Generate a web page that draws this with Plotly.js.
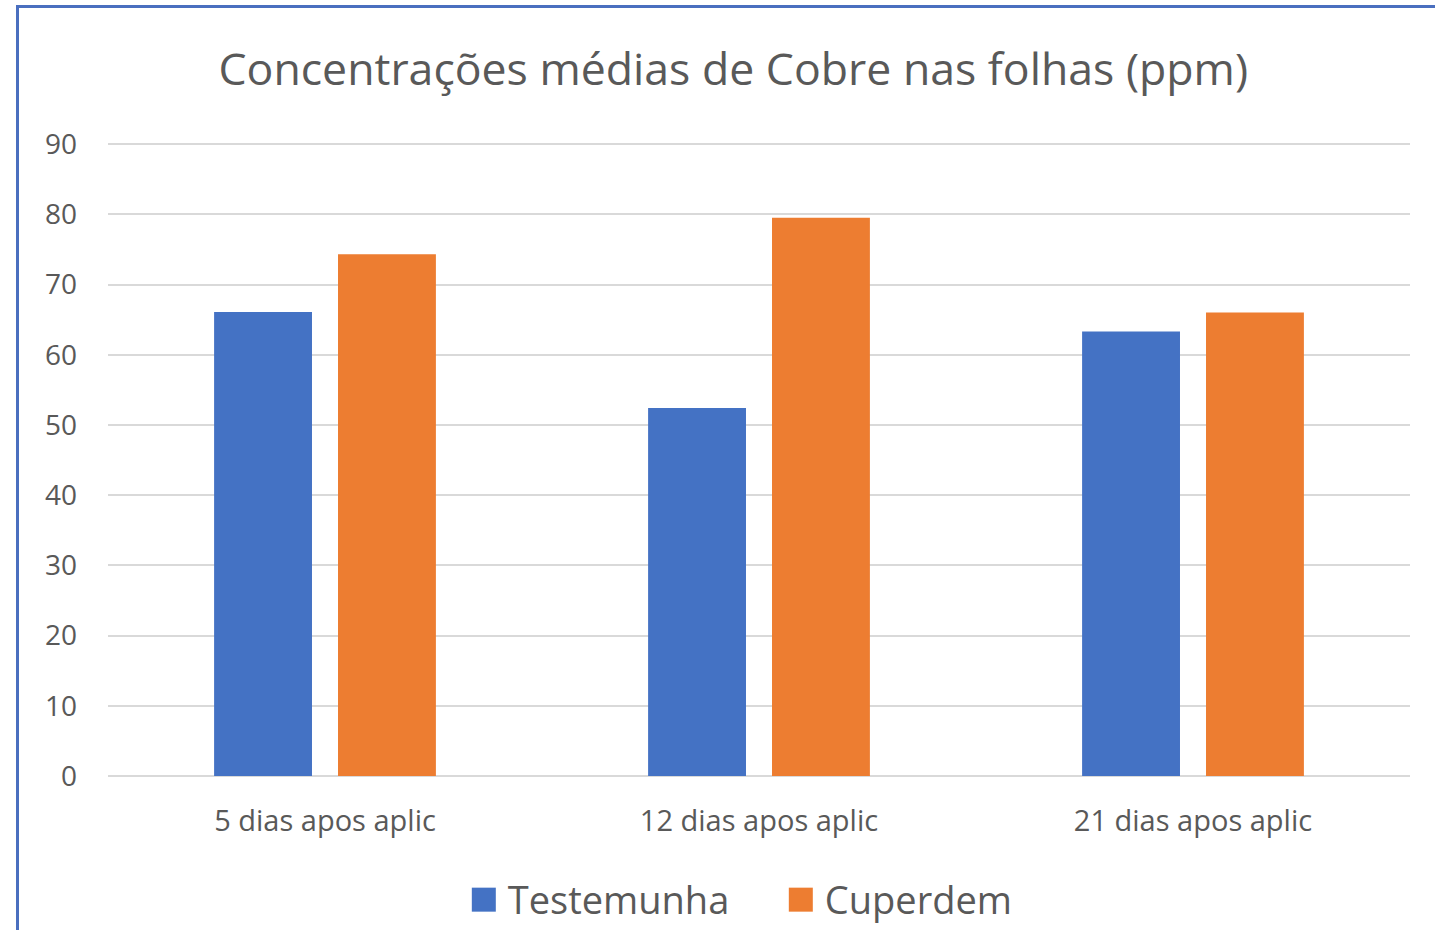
<!DOCTYPE html>
<html>
<head>
<meta charset="utf-8">
<script src="https://cdn.plot.ly/plotly-3.0.1.min.js"></script>
<style>
  html, body { margin: 0; padding: 0; background: #fff; overflow: hidden; }
  #wrap { position: relative; width: 1435px; height: 930px; }
  #chart { width: 1435px; height: 930px; }
  #frame { position: absolute; left: 16px; top: 5px; width: 1440px; height: 1000px;
           border-left: 3px solid #4a6fbf; border-top: 3px solid #4a6fbf; pointer-events: none; }
  .legend .scrollbox { clip-path: none !important; }
  .legendpoints path { transform: translate(16px, 0px) scale(2); }
</style>
</head>
<body>
<div id="wrap">
  <div id="chart"></div>
  <div id="frame"></div>
</div>
<script>
const categories = ["5 dias apos aplic", "12 dias apos aplic", "21 dias apos aplic"];
const testemunha = [66.1, 52.4, 63.3];
const cuperdem = [74.3, 79.5, 66.0];
const seriesNames = ["Testemunha", "Cuperdem"];
const chartTitle = "Concentrações médias de Cobre nas folhas (ppm)";

const textColor = "#595959";
const fontFam = "'Open Sans', sans-serif";

const traces = [
  { type: "bar", name: seriesNames[0], x: categories, y: testemunha,
    marker: { color: "#4472C4" }, hoverinfo: "x+y+name" },
  { type: "bar", name: seriesNames[1], x: categories, y: cuperdem,
    marker: { color: "#ED7D31" }, hoverinfo: "x+y+name" }
];

const layout = {
  width: 1435, height: 930,
  margin: { l: 108, r: 25, t: 142, b: 154, autoexpand: false },
  paper_bgcolor: "#ffffff", plot_bgcolor: "#ffffff",
  font: { family: fontFam, color: textColor },
  title: { text: chartTitle, x: 0.511, xref: "container", xanchor: "center",
           y: 0.925, yref: "container", yanchor: "middle",
           font: { size: 44.6, color: textColor, family: fontFam } },
  barmode: "group",
  bargap: 0.429,
  bargroupgap: 0.21,
  xaxis: { type: "category", showgrid: false, showline: false, zeroline: false,
           ticks: "", ticklabelstandoff: 25, automargin: false,
           tickfont: { size: 29, color: textColor } },
  yaxis: { range: [0, 90.3], tickvals: [0, 10, 20, 30, 40, 50, 60, 70, 80, 90], showline: false,
           gridcolor: "#D9D9D9", gridwidth: 2, automargin: false,
           zeroline: true, zerolinecolor: "#D9D9D9", zerolinewidth: 2,
           ticks: "", ticklabelstandoff: 30,
           tickfont: { size: 28, color: textColor } },
  showlegend: true,
  legend: { orientation: "h", xref: "container", x: 0.326, xanchor: "left",
            yref: "container", y: 0.0323, yanchor: "middle",
            font: { size: 38, color: textColor }, itemwidth: 30,
            entrywidth: 272, entrywidthmode: "pixels", traceorder: "normal" }
};

Plotly.newPlot("chart", traces, layout, { displayModeBar: false });
</script>
</body>
</html>
